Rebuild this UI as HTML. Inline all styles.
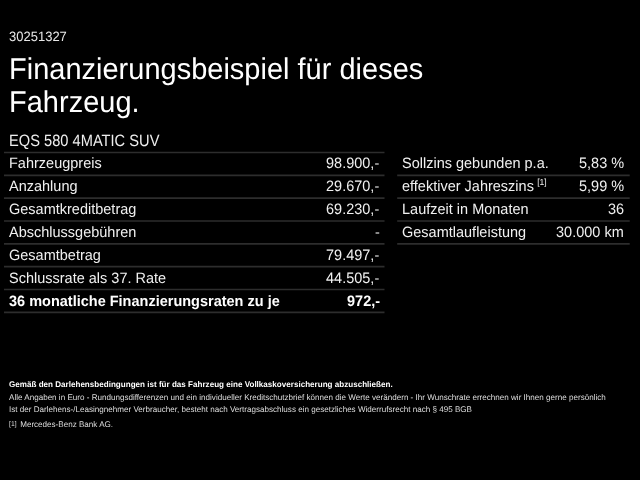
<!DOCTYPE html>
<html><head><meta charset="utf-8">
<style>
html,body{margin:0;padding:0;background:#000;}
body{width:640px;height:480px;overflow:hidden;position:relative;font-family:"Liberation Sans",sans-serif;color:#fff;}
#wrap{position:absolute;left:0;top:0;width:640px;height:480px;will-change:transform;}
.abs{position:absolute;white-space:nowrap;}
.t{position:absolute;white-space:nowrap;line-height:0;height:0;}
svg line{stroke:#2d2d2d;stroke-width:1.7;}
.sup{font-size:8.6px;position:relative;top:-6.2px;margin-left:3.3px;color:#eee;}
</style></head><body><div id="wrap">
<div class="t" style="left:8.55px;top:37.05px;font-size:13px;color:#e8e8e8;transform-origin:0 4.50px;transform:skewX(0.1deg) scaleY(1.04);">30251327</div>
<div class="t" style="left:9.00px;top:68.75px;font-size:29px;color:#fff;transform-origin:0 10.05px;transform:skewX(0.1deg) scaleY(1.035);">Finanzierungsbeispiel für dieses</div>
<div class="t" style="left:9.00px;top:102.20px;font-size:29px;color:#fff;transform-origin:0 10.05px;transform:skewX(0.1deg) scaleY(1.035);">Fahrzeug.</div>
<div class="t" style="left:8.50px;top:140.52px;font-size:14.66px;color:#eee;transform-origin:0 5.08px;transform:skewX(0.1deg) scaleY(1.12);">EQS 580 4MATIC SUV</div>
<svg class="abs" style="left:0;top:0" width="640" height="480" viewBox="0 0 640 480">
<line x1="4.0" x2="384.5" y1="152.50" y2="152.50"/>
<line x1="4.0" x2="384.5" y1="175.33" y2="175.33"/>
<line x1="4.0" x2="384.5" y1="198.16" y2="198.16"/>
<line x1="4.0" x2="384.5" y1="220.99" y2="220.99"/>
<line x1="4.0" x2="384.5" y1="243.82" y2="243.82"/>
<line x1="4.0" x2="384.5" y1="266.65" y2="266.65"/>
<line x1="4.0" x2="384.5" y1="289.48" y2="289.48"/>
<line x1="4.0" x2="384.5" y1="312.31" y2="312.31"/>
<line x1="397.2" x2="629.7" y1="175.33" y2="175.33"/>
<line x1="397.2" x2="629.7" y1="198.16" y2="198.16"/>
<line x1="397.2" x2="629.7" y1="220.99" y2="220.99"/>
<line x1="397.2" x2="629.7" y1="243.82" y2="243.82"/>
</svg>
<div class="t" style="left:8.50px;top:163.18px;font-size:14.5px;color:#f0f0f0;transform-origin:0 5.02px;transform:skewX(0.1deg) scaleY(1.03);">Fahrzeugpreis</div>
<div class="t" style="right:260.40px;top:163.18px;font-size:14.5px;color:#f0f0f0;transform-origin:100% 5.02px;transform:skewX(0.1deg) scaleY(1.045);">98.900,-</div>
<div class="t" style="left:8.50px;top:186.14px;font-size:14.5px;color:#f0f0f0;transform-origin:0 5.02px;transform:skewX(0.1deg) scaleY(1.03);">Anzahlung</div>
<div class="t" style="right:260.40px;top:186.14px;font-size:14.5px;color:#f0f0f0;transform-origin:100% 5.02px;transform:skewX(0.1deg) scaleY(1.045);">29.670,-</div>
<div class="t" style="left:8.50px;top:209.10px;font-size:14.5px;color:#f0f0f0;transform-origin:0 5.02px;transform:skewX(0.1deg) scaleY(1.03);">Gesamtkreditbetrag</div>
<div class="t" style="right:260.40px;top:209.10px;font-size:14.5px;color:#f0f0f0;transform-origin:100% 5.02px;transform:skewX(0.1deg) scaleY(1.045);">69.230,-</div>
<div class="t" style="left:8.50px;top:232.06px;font-size:14.5px;color:#f0f0f0;transform-origin:0 5.02px;transform:skewX(0.1deg) scaleY(1.03);">Abschlussgebühren</div>
<div class="t" style="right:260.40px;top:232.06px;font-size:14.5px;color:#f0f0f0;transform-origin:100% 5.02px;transform:skewX(0.1deg) scaleY(1.045);">-</div>
<div class="t" style="left:8.50px;top:255.02px;font-size:14.5px;color:#f0f0f0;transform-origin:0 5.02px;transform:skewX(0.1deg) scaleY(1.03);">Gesamtbetrag</div>
<div class="t" style="right:260.40px;top:255.02px;font-size:14.5px;color:#f0f0f0;transform-origin:100% 5.02px;transform:skewX(0.1deg) scaleY(1.045);">79.497,-</div>
<div class="t" style="left:8.50px;top:277.98px;font-size:14.5px;color:#f0f0f0;transform-origin:0 5.02px;transform:skewX(0.1deg) scaleY(1.03);">Schlussrate als 37. Rate</div>
<div class="t" style="right:260.40px;top:277.98px;font-size:14.5px;color:#f0f0f0;transform-origin:100% 5.02px;transform:skewX(0.1deg) scaleY(1.045);">44.505,-</div>
<div class="t" style="left:8.50px;top:300.94px;font-size:14.5px;color:#fff;font-weight:bold;transform-origin:0 5.02px;transform:skewX(0.1deg) scaleY(1.03);">36 monatliche Finanzierungsraten zu je</div>
<div class="t" style="right:260.40px;top:300.94px;font-size:14.5px;color:#fff;font-weight:bold;transform-origin:100% 5.02px;transform:skewX(0.1deg) scaleY(1.045);">972,-</div>
<div class="t" style="left:402.00px;top:163.18px;font-size:14.5px;color:#f0f0f0;transform-origin:0 5.02px;transform:skewX(0.1deg) scaleY(1.03);">Sollzins gebunden p.a.</div>
<div class="t" style="right:15.80px;top:163.18px;font-size:14.5px;color:#f0f0f0;transform-origin:100% 5.02px;transform:skewX(0.1deg) scaleY(1.045);">5,83 %</div>
<div class="t" style="left:402.00px;top:186.14px;font-size:14.5px;color:#f0f0f0;transform-origin:0 5.02px;transform:skewX(0.1deg) scaleY(1.03);">effektiver Jahreszins<span class="sup">[1]</span></div>
<div class="t" style="right:15.80px;top:186.14px;font-size:14.5px;color:#f0f0f0;transform-origin:100% 5.02px;transform:skewX(0.1deg) scaleY(1.045);">5,99 %</div>
<div class="t" style="left:402.00px;top:209.10px;font-size:14.5px;color:#f0f0f0;transform-origin:0 5.02px;transform:skewX(0.1deg) scaleY(1.03);">Laufzeit in Monaten</div>
<div class="t" style="right:15.80px;top:209.10px;font-size:14.5px;color:#f0f0f0;transform-origin:100% 5.02px;transform:skewX(0.1deg) scaleY(1.045);">36</div>
<div class="t" style="left:402.00px;top:232.06px;font-size:14.5px;color:#f0f0f0;transform-origin:0 5.02px;transform:skewX(0.1deg) scaleY(1.03);">Gesamtlaufleistung</div>
<div class="t" style="right:15.80px;top:232.06px;font-size:14.5px;color:#f0f0f0;transform-origin:100% 5.02px;transform:skewX(0.1deg) scaleY(1.045);">30.000 km</div>
<div class="t" style="left:8.90px;top:385.20px;font-size:8.09px;color:#fff;font-weight:bold;transform-origin:0 2.80px;transform:skewX(0.1deg) scaleY(1.02);">Gemäß den Darlehensbedingungen ist für das Fahrzeug eine Vollkaskoversicherung abzuschließen.</div>
<div class="t" style="left:8.90px;top:398.20px;font-size:8.09px;color:#ddd;transform-origin:0 2.80px;transform:skewX(0.1deg) scaleY(1.02);">Alle Angaben in Euro - Rundungsdifferenzen und ein individueller Kreditschutzbrief können die Werte verändern - Ihr Wunschrate errechnen wir Ihnen gerne persönlich</div>
<div class="t" style="left:8.90px;top:409.95px;font-size:8.09px;color:#ddd;transform-origin:0 2.80px;transform:skewX(0.1deg) scaleY(1.02);">Ist der Darlehens-/Leasingnehmer Verbraucher, besteht nach Vertragsabschluss ein gesetzliches Widerrufsrecht nach § 495 BGB</div>
<div class="t" style="left:8.90px;top:424.90px;font-size:8.09px;color:#ddd;transform-origin:0 2.80px;transform:skewX(0.1deg) scaleY(1.02);"><span style="font-size:6.8px;position:relative;top:-1.2px;">[1]</span><span style="margin-left:3.6px">Mercedes-Benz Bank AG.</span></div>
</div></body></html>
